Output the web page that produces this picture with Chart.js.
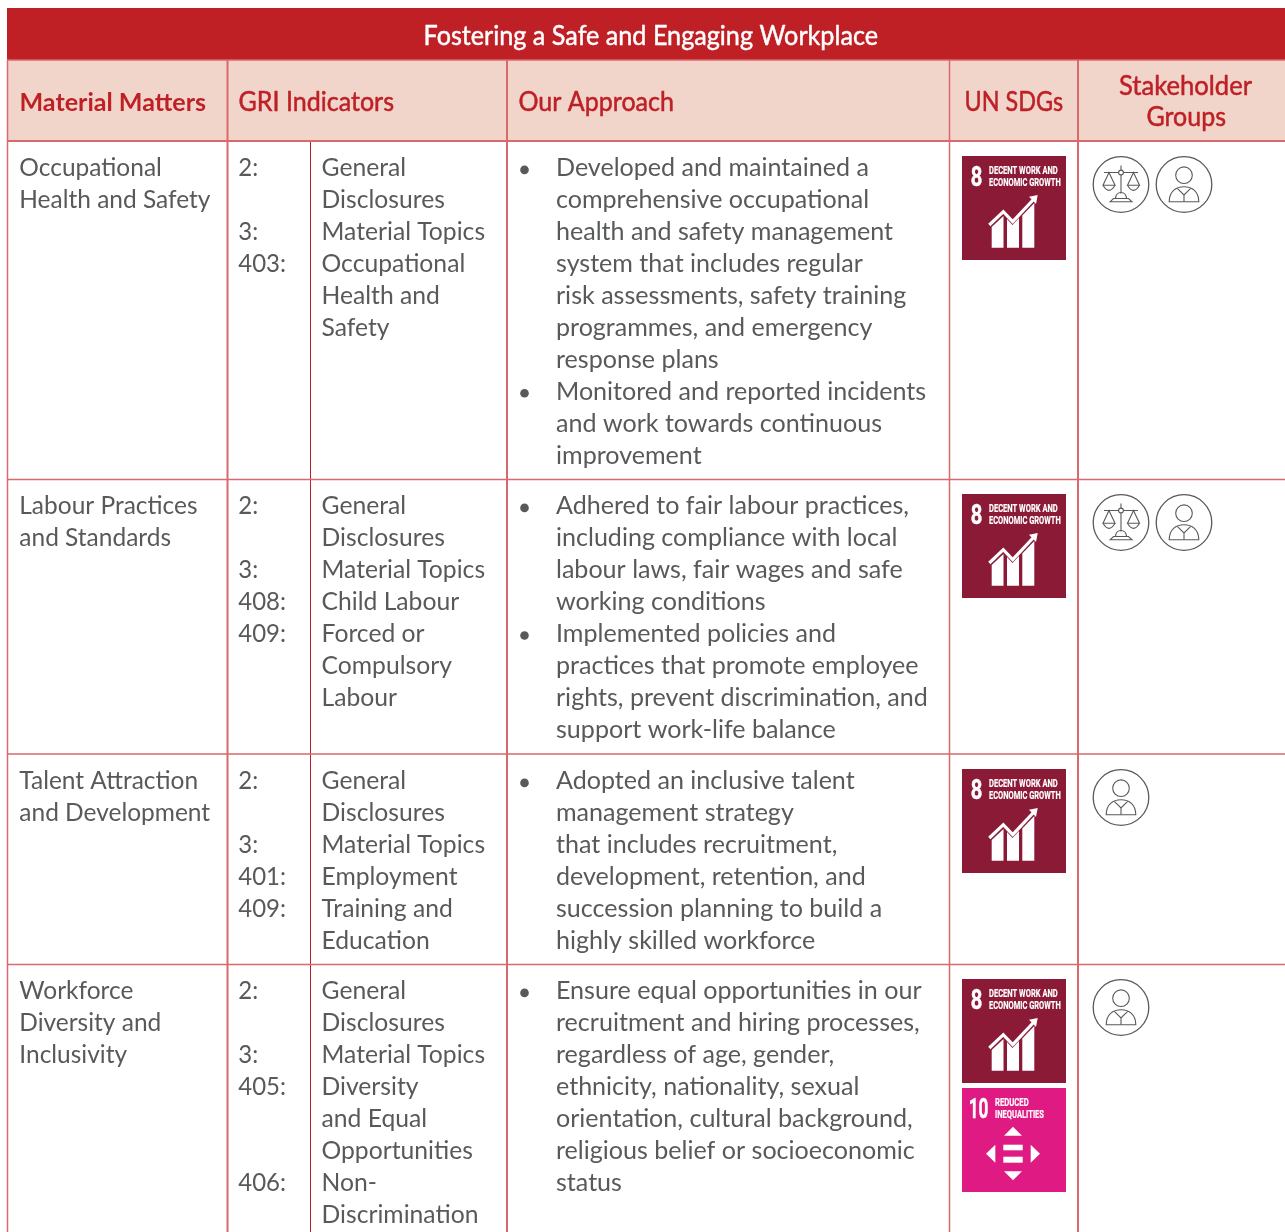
<!DOCTYPE html>
<html><head><meta charset="utf-8"><style>html,body{margin:0;padding:0;background:#fff}canvas{display:block}</style>
<script src="https://cdn.jsdelivr.net/npm/chart.js@4"></script></head>
<body><canvas id="c" width="1285" height="1232"></canvas>
<script>
const tableTitle = "Fostering a Safe and Engaging Workplace";
const columnHeads = ["Material Matters","GRI Indicators","Our Approach","UN SDGs","Stakeholder","Groups"];
const topics = [["Occupational","Health and Safety"],["Labour Practices","and Standards"],["Talent Attraction","and Development"],["Workforce","Diversity and","Inclusivity"]];
const griCodes = [["2:","","3:","403:"],["2:","","3:","408:","409:"],["2:","","3:","401:","409:"],["2:","","3:","405:","","","406:"]];
const griNames = [
 ["General","Disclosures","Material Topics","Occupational","Health and","Safety"],
 ["General","Disclosures","Material Topics","Child Labour","Forced or","Compulsory","Labour"],
 ["General","Disclosures","Material Topics","Employment","Training and","Education"],
 ["General","Disclosures","Material Topics","Diversity","and Equal","Opportunities","Non-","Discrimination"]];
const approach = [
 ["Developed and maintained a","comprehensive occupational","health and safety management","system that includes regular","risk assessments, safety training","programmes, and emergency","response plans","Monitored and reported incidents","and work towards continuous","improvement"],
 ["Adhered to fair labour practices,","including compliance with local","labour laws, fair wages and safe","working conditions","Implemented policies and","practices that promote employee","rights, prevent discrimination, and","support work-life balance"],
 ["Adopted an inclusive talent","management strategy","that includes recruitment,","development, retention, and","succession planning to build a","highly skilled workforce"],
 ["Ensure equal opportunities in our","recruitment and hiring processes,","regardless of age, gender,","ethnicity, nationality, sexual","orientation, cultural background,","religious belief or socioeconomic","status"]];
const bulletLines = [[0,7],[0,4],[0],[0]];
const sdgGoals = [[8],[8],[8],[8,10]];
const stakeholderIcons = [["scale","person"],["scale","person"],["person"],["person"]];
const sdgLabels = {8:["8","DECENT WORK AND","ECONOMIC GROWTH"],10:["10","REDUCED","INEQUALITIES"]};

/* layout */
const W=1285,H=1232;
const rowTops=[141,479,754,964];
const GRAY="#58595b",RED="#be2026",PINK="#d9696d",HEAD="#f1d5cb";
const LH=31.9, BASE=35.4;
const lineY=(r,i)=>rowTops[r]+BASE+LH*i;
const bullets=[];
bulletLines.forEach((ls,r)=>ls.forEach(i=>bullets.push({x:524.5,y:lineY(r,i)-6.5})));
const seg=(x1,y1,x2,y2,c,w)=>({type:"scatter",showLine:true,pointRadius:0,borderColor:c,borderWidth:w,data:[{x:x1,y:y1},{x:x2,y:y2}]});
const rules=[
 seg(7,60,W,60,PINK,1.5),seg(7,141,W,141,PINK,2),
 seg(7,479.5,W,479.5,PINK,1.5),seg(7,754,W,754,PINK,1.5),seg(7,964.5,W,964.5,PINK,1.5),
 seg(7.5,60,7.5,H,PINK,1.5),seg(227.5,60,227.5,H,PINK,2),seg(310.5,141,310.5,H,RED,1),
 seg(507,60,507,H,PINK,2),seg(949.5,60,949.5,H,PINK,1.5),seg(1078,60,1078,H,PINK,2)];

function fit(ctx,t,x,y,w,font,color,bold){ctx.save();ctx.font=font;ctx.fillStyle=color;ctx.textBaseline="alphabetic";
 const m=ctx.measureText(t).width;ctx.translate(x,y);ctx.scale(w/m,1);ctx.fillText(t,0,0);
 if(bold){ctx.strokeStyle=color;ctx.lineWidth=bold;ctx.lineJoin="round";ctx.strokeText(t,0,0);}
 ctx.restore();}
function txt(ctx,t,x,y,sx){ctx.save();ctx.translate(x,y);ctx.scale(sx,1);ctx.fillText(t,0,0);ctx.restore();}
function poly(ctx,p,c){ctx.fillStyle=c;ctx.beginPath();p.forEach((q,i)=>i?ctx.lineTo(q[0],q[1]):ctx.moveTo(q[0],q[1]));ctx.closePath();ctx.fill();}
function sdg(ctx,g,x,y){
 ctx.save();ctx.translate(x,y);
 ctx.fillStyle=g===8?"#8b1a37":"#e01a83";ctx.fillRect(0,0,104,104);
 const L=sdgLabels[g],F="700 ";
 if(g===8){
  fit(ctx,L[0],8.7,30,11.6,F+"27px Roboto","#fff",0.5);
  fit(ctx,L[1],27,18,68.7,F+"11.5px Roboto","#fff",0.2);
  fit(ctx,L[2],27,30,71.7,F+"11.5px Roboto","#fff",0.2);
  const w="#fff";
  poly(ctx,[[29.7,71],[41.5,60],[41.5,91.7],[29.7,91.7]],w);
  poly(ctx,[[45,63],[50.5,69],[57,62],[57,91.7],[45,91.7]],w);
  poly(ctx,[[60.3,59.5],[72.3,47],[72.3,91.7],[60.3,91.7]],w);
  ctx.strokeStyle=w;ctx.lineWidth=3.2;ctx.beginPath();ctx.moveTo(27.3,69);ctx.lineTo(41.3,55.7);ctx.lineTo(50.7,65.7);ctx.lineTo(71,44);ctx.stroke();
  poly(ctx,[[67,40.7],[75.7,39],[74,48]],w);
 }else{
  fit(ctx,L[0],6.7,29.7,19.6,F+"27px Roboto","#fff",0.5);
  fit(ctx,L[1],33,17.7,33.7,F+"11.5px Roboto","#fff",0.2);
  fit(ctx,L[2],33,29.7,49,F+"11.5px Roboto","#fff",0.2);
  const w="#fff";
  poly(ctx,[[42,47.7],[51,38.7],[60,47.7]],w);poly(ctx,[[42,83.3],[60,83.3],[51,92.3]],w);
  poly(ctx,[[33.3,56.7],[33.3,74.7],[24,65.7]],w);poly(ctx,[[68.7,56.7],[68.7,74.7],[78,65.7]],w);
  ctx.fillStyle=w;ctx.fillRect(41.3,56.7,19.4,5.6);ctx.fillRect(41.3,68.7,19.4,6);
 }
 ctx.restore();
}
function icon(ctx,k,cx,cy){
 ctx.save();ctx.translate(cx,cy);ctx.strokeStyle="#58595b";ctx.lineWidth=1.3;
 ctx.beginPath();ctx.arc(0,0,27.8,0,7);ctx.stroke();
 ctx.lineWidth=1.1;
 if(k==="person"){
  ctx.beginPath();ctx.arc(0,-9.3,8.3,0,7);ctx.stroke();
  ctx.beginPath();ctx.moveTo(-14.8,17.3);ctx.bezierCurveTo(-14.8,7,-8,2.3,0,2.3);ctx.bezierCurveTo(8,2.3,14.8,7,14.8,17.3);ctx.closePath();ctx.stroke();
  ctx.beginPath();ctx.moveTo(-6.7,3.8);ctx.lineTo(0,10.5);ctx.lineTo(6.7,3.8);ctx.moveTo(0,10.5);ctx.lineTo(0,17.3);ctx.stroke();
 }else{
  ctx.beginPath();ctx.moveTo(-17,-12);ctx.lineTo(17,-12);ctx.moveTo(0,-19);ctx.lineTo(0,9);ctx.stroke();
  ctx.fillStyle="#fff";ctx.beginPath();ctx.arc(0,-12,2.4,0,7);ctx.fill();ctx.stroke();
  [-12,12.5].forEach(p=>{ctx.beginPath();ctx.moveTo(p-6,0.7);ctx.lineTo(p,-12);ctx.lineTo(p+6,0.7);ctx.closePath();ctx.stroke();
   ctx.beginPath();ctx.moveTo(p-6,0.7);ctx.quadraticCurveTo(p,11,p+6,0.7);ctx.stroke();});
  ctx.beginPath();ctx.moveTo(-5.5,14);ctx.quadraticCurveTo(-5,8,0,8);ctx.quadraticCurveTo(5,8,5.5,14);ctx.closePath();ctx.stroke();
  ctx.beginPath();ctx.moveTo(-11,17.3);ctx.lineTo(-7.5,14);ctx.lineTo(7.5,14);ctx.lineTo(11,17.3);ctx.closePath();ctx.stroke();
 }
 ctx.restore();
}
const tablePlugin={id:"table",
 beforeDatasetsDraw(ch){const c=ch.ctx,X=ch.scales.x,Y=ch.scales.y;
  c.save();c.fillStyle=HEAD;c.fillRect(X.getPixelForValue(7),Y.getPixelForValue(60),W-7,81);
  c.fillStyle=RED;c.fillRect(X.getPixelForValue(7),Y.getPixelForValue(8),W-7,52);c.restore();},
 afterDatasetsDraw(ch){const c=ch.ctx;c.save();c.textBaseline="alphabetic";
  fit(c,tableTitle,423.5,44.5,454.5,"27px Lato","#fff",0.45);
  const hf="27px Lato",b=0.5;
  fit(c,columnHeads[0],19.5,110.5,186.5,"700 25px Lato",RED);
  fit(c,columnHeads[1],238.5,110.5,155.5,hf,RED,b);
  fit(c,columnHeads[2],518.5,110.5,155.5,hf,RED,b);
  fit(c,columnHeads[3],964.5,110.5,98.5,hf,RED,b);
  fit(c,columnHeads[4],1119,95,133,hf,RED,b);
  fit(c,columnHeads[5],1146.5,126,79.5,hf,RED,b);
  c.font="25.5px Lato";c.fillStyle=GRAY;
  const col=(a,x,sx)=>a.forEach((ls,r)=>ls.forEach((t,i)=>{if(t)txt(c,t,x,lineY(r,i),sx);}));
  col(topics,19.3,0.96);col(griCodes,238.3,0.94);col(griNames,321.5,0.968);col(approach,556,0.983);
  sdgGoals.forEach((gs,r)=>gs.forEach((g,i)=>sdg(c,g,962,rowTops[r]+15+i*109)));
  stakeholderIcons.forEach((ks,r)=>ks.forEach((k,i)=>icon(c,k,1121+i*63,rowTops[r]+43.5)));
  c.restore();}
};
new Chart(document.getElementById("c"),{
 type:"scatter",
 data:{datasets:[...rules,{type:"scatter",data:bullets,pointRadius:4.3,pointBackgroundColor:GRAY,pointBorderWidth:0}]},
 options:{responsive:false,animation:false,layout:{padding:0,autoPadding:false},
  plugins:{legend:{display:false},tooltip:{enabled:false},title:{display:false}},
  scales:{x:{type:"linear",display:false,min:0,max:W},y:{type:"linear",display:false,min:0,max:H,reverse:true}}},
 plugins:[tablePlugin]});
</script></body></html>
